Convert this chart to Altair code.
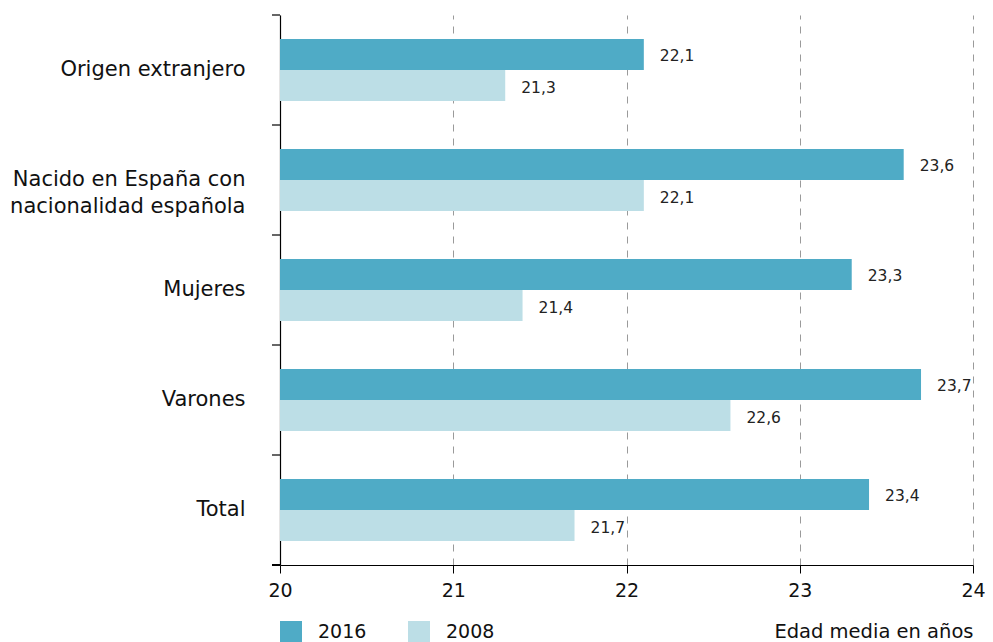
import altair as alt
import pandas as pd

categories = ["Origen extranjero", "Nacido en España con|nacionalidad española", "Mujeres", "Varones", "Total"]
years = ["2016", "2008"]
values_2016 = [22.1, 23.6, 23.3, 23.7, 23.4]
values_2008 = [21.3, 22.1, 21.4, 22.6, 21.7]
x_ticks = [20, 21, 22, 23, 24]

rows = []
for c, v16, v08 in zip(categories, values_2016, values_2008):
    rows.append({"cat": c, "year": "2016", "value": v16})
    rows.append({"cat": c, "year": "2008", "value": v08})
df = pd.DataFrame(rows)

FONT = "DejaVu Sans"
W, H = 693, 550

yscale = alt.Scale(domain=categories, paddingInner=0, paddingOuter=0)
yoff = alt.YOffset("year:N", sort=years, scale=alt.Scale(domain=years, paddingInner=0, paddingOuter=0.774))
xscale = alt.Scale(domain=[20, 24], nice=False, zero=False)

bars = alt.Chart(df).mark_bar().encode(
    x=alt.X("value:Q", scale=xscale,
            axis=alt.Axis(values=x_ticks, format="d", title="Edad media en años", grid=True,
                          gridDash=[7, 7], gridColor="#9a9a9a", gridWidth=1, labelFlush=False,
                          domainColor="#000", domainWidth=1.2, tickColor="#000", tickSize=8,
                          labelFontSize=19, labelFont=FONT, labelColor="#111", labelPadding=8,
                          titleFont=FONT, titleFontSize=19.5, titleFontWeight="normal", titleColor="#111",
                          titleAnchor="end", titleAlign="right", titleBaseline="middle",
                          titleX=W, titleY=66, gridOpacity=1)),
    x2=alt.datum(20),
    y=alt.Y("cat:N", sort=categories, scale=yscale,
            axis=alt.Axis(title=None, ticks=False, labelFontSize=21, labelFont=FONT,
                          labelColor="#111", labelPadding=35, labelLineHeight=27, labelLimit=400,
                          labelExpr="split(datum.label, '|')", domainColor="#000", domainWidth=1.2)),
    yOffset=yoff,
    color=alt.Color("year:N", sort=years,
                    scale=alt.Scale(domain=years, range=["#4fabc6", "#bcdee6"]),
                    legend=alt.Legend(title=None, orient="none", legendX=0, legendY=606,
                                      direction="horizontal", symbolType="square", symbolSize=484,
                                      symbolStrokeWidth=0, labelFontSize=19, labelFont=FONT,
                                      labelColor="#111", labelOffset=16, columnPadding=41,
                                      symbolOpacity=1)),
)

labels = alt.Chart(df).transform_calculate(
    lab="replace(format(datum.value, '.1f'), '.', ',')"
).mark_text(align="left", baseline="middle", dx=16, dy=2, fontSize=15.5, font=FONT, color="#222").encode(
    x=alt.X("value:Q", scale=xscale),
    y=alt.Y("cat:N", sort=categories, scale=yscale),
    yOffset=yoff,
    text="lab:N",
)

tickdf = pd.DataFrame({"cat": categories})
yticks = alt.Chart(tickdf).mark_rule(color="#000", strokeWidth=1.2).encode(
    y=alt.Y("cat:N", sort=categories, scale=yscale, bandPosition=0),
    x=alt.value(-8), x2=alt.value(0),
)
bottom_tick = alt.Chart(tickdf).mark_rule(color="#000", strokeWidth=1.2).encode(
    y=alt.value(H), x=alt.value(-8), x2=alt.value(0),
)

chart = alt.layer(bars, labels, yticks, bottom_tick).properties(
    width=W, height=H,
    autosize=alt.AutoSizeParams(type="none"),
    padding={"left": 272, "top": 7, "right": 12, "bottom": 78},
).configure_view(stroke=None).configure_axis(gridCap="butt")

chart.save("out.html", embed_options={"renderer": "svg", "actions": False})
